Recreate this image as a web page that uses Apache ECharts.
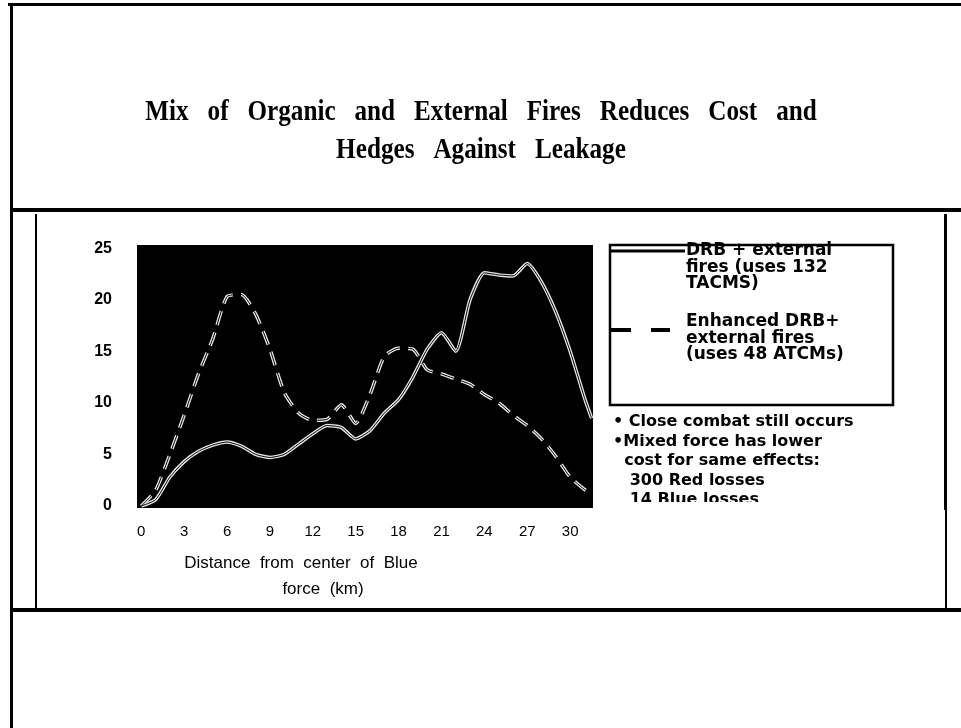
<!DOCTYPE html>
<html>
<head>
<meta charset="utf-8">
<script src="https://cdn.jsdelivr.net/npm/echarts@6/dist/echarts.min.js"></script>
<style>
  html, body { margin: 0; padding: 0; background: #fff; }
  #chart { width: 961px; height: 728px; }
</style>
</head>
<body>
<div id="chart"></div>
<script>
// Distance from the centre of the Blue force (km)
const distanceKm = [0, 1, 2, 3, 4, 5, 6, 7, 8, 9, 10, 11, 12, 13, 14, 15,
  16, 17, 18, 19, 20, 21, 22, 23, 24, 25, 26, 27, 28, 29, 30, 31, 31.5];

// DRB + external fires (uses 132 TACMS)
const drbExternal = [0, 0.6, 2.8, 4.3, 5.3, 5.9, 6.2, 5.8, 5.0, 4.7, 5.0, 6.0,
  7.0, 7.8, 7.6, 6.5, 7.3, 9.0, 10.3, 12.5, 15.2, 16.8, 15.0, 20.0, 22.6, 22.4,
  22.3, 23.5, 21.7, 18.8, 15.0, 10.5, 8.5];

// Enhanced DRB + external fires (uses 48 ATCMs)
const enhancedDrb = [0, 1.5, 5.0, 8.8, 12.8, 16.2, 20.3, 20.5, 18.6, 15.2, 11.0,
  9.0, 8.3, 8.4, 9.8, 8.0, 10.8, 14.5, 15.3, 15.2, 13.2, 12.8, 12.3, 11.8, 10.8,
  10.0, 8.8, 7.8, 6.5, 4.8, 2.8, 1.6, 1.2];

const xTickLabels = [0, 3, 6, 9, 12, 15, 18, 21, 24, 27, 30];
const yTickLabels = [0, 5, 10, 15, 20, 25];

const titleLines = ['Mix   of   Organic   and   External   Fires   Reduces   Cost   and',
  'Hedges   Against   Leakage'];
const legendSolid = ['DRB + external', 'fires (uses 132', 'TACMS)'];
const legendDashed = ['Enhanced DRB+', 'external fires', '(uses 48 ATCMs)'];
const notes = ['\u2022 Close combat still occurs', '\u2022Mixed force has lower',
  '  cost for same effects:', '   300 Red losses', '   14 Blue losses'];

const pairs = (vals) => distanceKm.map((d, i) => [d, vals[i]]);

const sans = 'Liberation Sans, Arial, sans-serif';
const boldSans = 'DejaVu Sans, Liberation Sans, sans-serif';
const serif = 'Liberation Serif, Times New Roman, serif';

// frame made of black bars
function bar(x, y, w, h) {
  return { type: 'rect', shape: { x, y, width: w, height: h }, style: { fill: '#000' }, silent: true };
}

const graphics = [
  bar(8, 3, 953, 3),      // top edge
  bar(10, 3, 3, 725),     // outer left edge
  bar(10, 208, 951, 4),   // divider under the title
  bar(10, 608, 951, 4),   // divider under the chart panel
  bar(35, 214, 2, 396),   // inner left rule
  bar(944, 214, 3, 296),  // inner right rule (upper)
  bar(945, 510, 2, 100),  // inner right rule (lower)
];

titleLines.forEach((t, i) => {
  graphics.push({
    type: 'text', x: 481, y: 112 + i * 38, scaleX: 0.84, silent: true,
    style: { text: t, fill: '#000', font: 'bold 30px ' + serif, align: 'center', verticalAlign: 'middle' }
  });
});

// legend box
graphics.push({
  type: 'rect', shape: { x: 610, y: 245, width: 283, height: 160 },
  style: { fill: '#fff', stroke: '#000', lineWidth: 2.5 }, silent: true
});
graphics.push({
  type: 'line', shape: { x1: 611, y1: 251, x2: 685, y2: 251 },
  style: { stroke: '#000', lineWidth: 3 }, silent: true
});
graphics.push({
  type: 'line', shape: { x1: 611, y1: 330, x2: 670, y2: 330 },
  style: { stroke: '#000', lineWidth: 4, lineDash: [20, 20] }, silent: true
});
legendSolid.forEach((t, i) => {
  graphics.push({
    type: 'text', x: 686, y: 251 + i * 16.5, silent: true,
    style: { text: t, fill: '#000', font: 'bold 17px ' + boldSans, verticalAlign: 'middle' }
  });
});
legendDashed.forEach((t, i) => {
  graphics.push({
    type: 'text', x: 686, y: 322 + i * 16.5, silent: true,
    style: { text: t, fill: '#000', font: 'bold 17px ' + boldSans, verticalAlign: 'middle' }
  });
});
notes.forEach((t, i) => {
  graphics.push({
    type: 'text', x: 613, y: 422 + i * 19.5, silent: true,
    style: { text: t, fill: '#000', font: 'bold 16px ' + boldSans, verticalAlign: 'middle' }
  });
});
// the last note runs past the panel edge and is cut off
graphics.push(Object.assign(bar(600, 502, 340, 30), { style: { fill: '#fff' }, z: 10 }));

// x-axis title
graphics.push({
  type: 'text', x: 301, y: 563, silent: true,
  style: { text: 'Distance  from  center  of  Blue', fill: '#000', font: '17px ' + sans, align: 'center', verticalAlign: 'middle' }
});
graphics.push({
  type: 'text', x: 323, y: 589, silent: true,
  style: { text: 'force  (km)', fill: '#000', font: '17px ' + sans, align: 'center', verticalAlign: 'middle' }
});

const chart = echarts.init(document.getElementById('chart'), null, { renderer: 'canvas' });

function curve(name, vals, dashed) {
  return [
    {
      name, type: 'line', data: pairs(vals), showSymbol: false, smooth: 0.2,
      lineStyle: { color: '#e6e6e6', width: 3.5, type: dashed ? [14, 8] : 'solid' },
      z: 2, silent: true
    },
    {
      name: name + ' core', type: 'line', data: pairs(vals), showSymbol: false, smooth: 0.2,
      lineStyle: { color: '#000', width: 1, type: dashed ? [14, 8] : 'solid' },
      z: 3, silent: true
    }
  ];
}

chart.setOption({
  animation: false,
  backgroundColor: '#fff',
  grid: {
    left: 137, right: 368, top: 245, bottom: 220,
    show: true, backgroundColor: '#000', borderWidth: 0,
    outerBoundsMode: 'none'
  },
  xAxis: {
    type: 'value', min: -0.3, max: 31.6,
    axisLine: { show: false }, axisTick: { show: false }, splitLine: { show: false },
    axisLabel: {
      customValues: xTickLabels, margin: 16,
      color: '#000', fontSize: 15, fontFamily: sans
    }
  },
  yAxis: {
    type: 'value', min: -0.2, max: 25.3,
    axisLine: { show: false }, axisTick: { show: false }, splitLine: { show: false },
    axisLabel: {
      customValues: yTickLabels, margin: 25,
      color: '#000', fontSize: 16, fontWeight: 'bold', fontFamily: sans
    }
  },
  series: [
    ...curve('DRB + external fires (uses 132 TACMS)', drbExternal, false),
    ...curve('Enhanced DRB+ external fires (uses 48 ATCMs)', enhancedDrb, true)
  ],
  graphic: graphics
});
</script>
</body>
</html>
